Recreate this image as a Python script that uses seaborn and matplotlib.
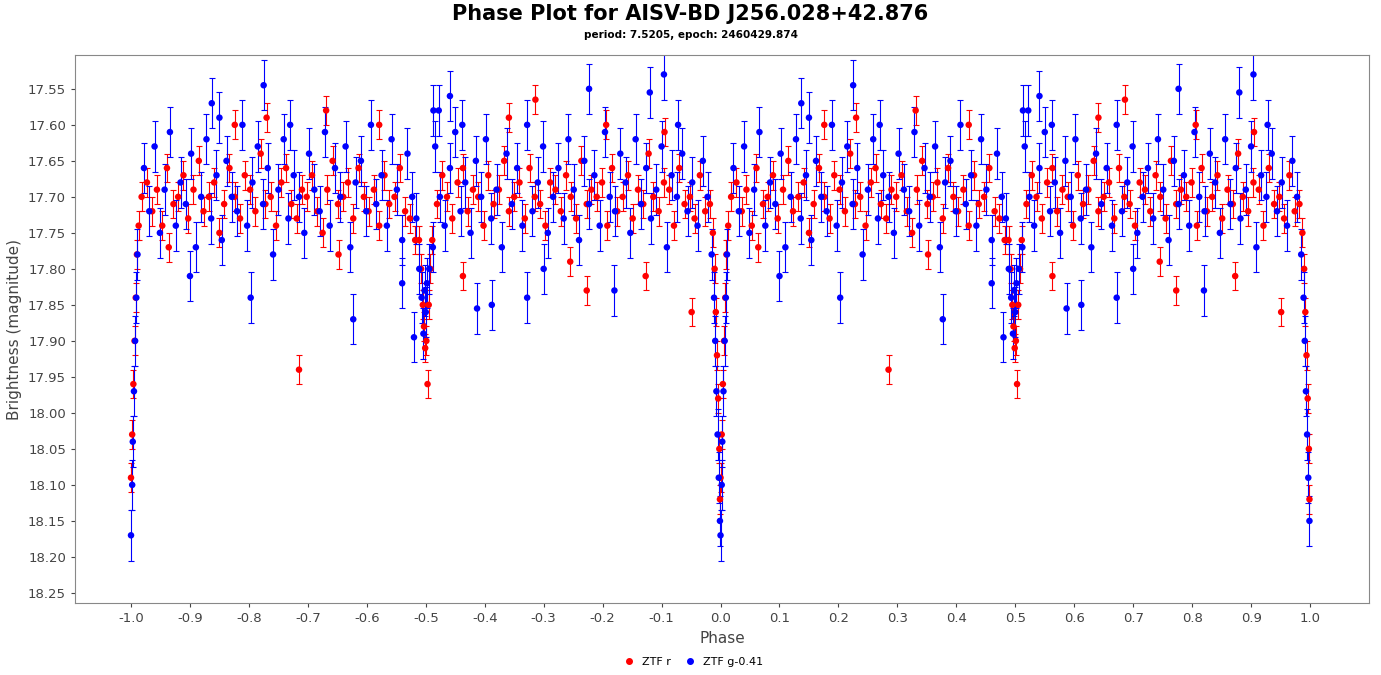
import numpy as np
import pandas as pd
import matplotlib
matplotlib.use("Agg")
import matplotlib.pyplot as plt
import seaborn as sns

r_phase = [0.018,0.027,0.036,0.044,0.053,0.061,0.072,0.080,0.089,0.097,0.106,0.115,0.123,0.132,0.141,0.150,0.158,0.167,0.176,0.185,0.193,0.202,0.211,0.220,0.228,0.237,0.246,0.255,0.263,0.272,0.281,0.290,0.298,0.307,0.316,0.325,0.333,0.342,0.351,0.360,0.368,0.377,0.386,0.395,0.403,0.412,0.421,0.430,0.438,0.447,0.456,0.465,0.473,0.482,
           0.519,0.528,0.536,0.545,0.554,0.563,0.571,0.580,0.589,0.598,0.606,0.615,0.624,0.633,0.641,0.650,0.659,0.668,0.676,0.685,0.694,0.703,0.711,0.720,0.729,0.738,0.746,0.755,0.764,0.773,0.781,0.790,0.799,0.808,0.816,0.825,0.834,0.843,0.851,0.860,0.869,0.878,0.886,0.895,0.904,0.913,0.921,0.930,0.939,0.948,0.956,0.965,0.974,0.982,
           0.000,0.002,0.004,0.006,0.008,0.010,0.013,0.987,0.990,0.992,0.994,0.996,0.998,0.999,0.4885,0.492,0.495,0.497,0.499,0.501,0.503,0.505,0.508,0.511,0.285,0.951,0.773,0.873,0.563,0.686,0.230,0.176,0.331,0.421,0.641,0.806,0.905,0.064,0.352,0.745]
r_mag = [17.70,17.68,17.72,17.69,17.74,17.66,17.71,17.70,17.67,
         17.73,17.69,17.65,17.72,17.70,17.68,17.75,17.71,17.66,
         17.70,17.73,17.67,17.69,17.72,17.64,17.71,17.70,17.74,
         17.68,17.66,17.71,17.73,17.69,17.70,17.67,17.72,17.75,
         17.69,17.65,17.71,17.70,17.68,17.73,17.66,17.70,17.72,
         17.69,17.74,17.67,17.71,17.70,17.66,17.72,17.73,17.76,
         17.71,17.67,17.70,17.73,17.68,17.66,17.72,17.69,17.70,
         17.74,17.67,17.71,17.69,17.65,17.72,17.70,17.68,17.73,
         17.66,17.70,17.71,17.74,17.68,17.69,17.72,17.67,17.70,
         17.73,17.65,17.71,17.69,17.70,17.68,17.74,17.66,17.72,
         17.70,17.67,17.73,17.69,17.71,17.64,17.70,17.72,17.68,
         17.69,17.74,17.66,17.71,17.70,17.73,17.67,17.72,17.71,
         18.09,18.03,17.96,17.90,17.84,17.78,17.74,17.75,17.80,17.86,17.92,17.98,18.05,18.12,
         17.76,17.80,17.85,17.88,17.91,17.90,17.96,17.85,17.80,17.76,
         17.94,17.86,17.83,17.81,17.81,17.565,17.59,17.60,17.58,17.60,17.59,17.60,17.61,17.77,17.78,17.79]

g_phase = [0.022,0.031,0.040,0.049,0.057,0.066,0.076,0.084,0.093,0.102,0.110,0.119,0.128,0.136,0.145,0.154,0.162,0.171,0.180,0.189,0.197,0.206,0.215,0.224,0.232,0.241,0.250,0.259,0.267,0.276,0.285,0.294,0.302,0.311,0.320,0.329,0.337,0.346,0.355,0.364,0.372,0.381,0.390,0.399,0.407,0.416,0.425,0.434,0.442,0.451,0.460,0.469,0.477,0.484,
           0.516,0.524,0.532,0.541,0.550,0.559,0.567,0.576,0.585,0.594,0.602,0.611,0.620,0.629,0.637,0.646,0.655,0.664,0.672,0.681,0.690,0.699,0.707,0.716,0.725,0.734,0.742,0.751,0.760,0.769,0.777,0.786,0.795,0.804,0.812,0.821,0.830,0.839,0.847,0.856,0.865,0.874,0.882,0.891,0.900,0.909,0.917,0.926,0.935,0.944,0.952,0.961,0.970,0.978,
           0.000,0.002,0.003,0.005,0.007,0.009,0.011,0.985,0.989,0.991,0.993,0.995,0.997,0.999,0.489,0.493,0.496,0.498,0.500,0.502,0.506,0.512,0.513,0.522,0.541,0.562,0.777,0.880,0.904,0.928,0.225,0.137,0.203,0.377,0.460,0.480,0.587,0.612,0.100,0.672,0.700,0.820,0.270,0.150]
g_mag = [17.66,17.72,17.63,17.75,17.69,17.61,17.74,17.68,17.71,
         17.64,17.77,17.70,17.62,17.73,17.67,17.76,17.65,17.70,
         17.72,17.60,17.74,17.68,17.63,17.71,17.66,17.78,17.69,
         17.62,17.73,17.67,17.70,17.75,17.64,17.69,17.72,17.61,
         17.74,17.66,17.70,17.63,17.77,17.68,17.65,17.72,17.60,
         17.71,17.67,17.74,17.62,17.69,17.76,17.64,17.70,17.73,
         17.63,17.70,17.74,17.66,17.61,17.72,17.68,17.75,17.65,
         17.70,17.62,17.73,17.69,17.77,17.64,17.71,17.66,17.74,
         17.60,17.72,17.68,17.63,17.75,17.70,17.66,17.73,17.62,
         17.69,17.76,17.65,17.71,17.67,17.74,17.61,17.70,17.72,
         17.64,17.68,17.75,17.62,17.71,17.66,17.73,17.69,17.63,
         17.77,17.67,17.70,17.64,17.72,17.68,17.74,17.65,17.70,
         18.17,18.10,18.04,17.97,17.90,17.84,17.78,17.78,17.84,17.90,17.97,18.03,18.09,18.15,
         17.80,17.84,17.89,17.83,17.86,17.82,17.80,17.77,17.58,17.58,17.56,17.60,17.55,17.555,17.53,17.60,
         17.545,17.57,17.84,17.87,17.82,17.895,17.855,17.85,17.81,17.84,17.80,17.83,17.60,17.59]

r_err = 0.02
g_err = 0.035
x_ticks = [-1.0,-0.9,-0.8,-0.7,-0.6,-0.5,-0.4,-0.3,-0.2,-0.1,0.0,0.1,0.2,0.3,0.4,0.5,0.6,0.7,0.8,0.9,1.0]
y_ticks = [17.55,17.60,17.65,17.70,17.75,17.80,17.85,17.90,17.95,18.00,18.05,18.10,18.15,18.20,18.25]

def frame(ph, mg, err, name):
    ph = np.array(ph); mg = np.array(mg)
    return pd.DataFrame({"phase": np.concatenate([ph, ph - 1.0]),
                         "mag": np.concatenate([mg, mg]),
                         "err": err, "band": name})

df = pd.concat([frame(r_phase, r_mag, r_err, "ZTF r"),
                frame(g_phase, g_mag, g_err, "ZTF g-0.41")], ignore_index=True)
colors = {"ZTF r": "#ff0000", "ZTF g-0.41": "#0000ff"}

fig = plt.figure(figsize=(13.81, 6.75), dpi=100)
ax = fig.add_axes([75/1381, 1-603/675, (1369-75)/1381, (603-55)/675])
for band in ["ZTF r", "ZTF g-0.41"]:
    d = df[df.band == band]
    ax.errorbar(d.phase, d.mag, yerr=d.err, fmt="none", ecolor=colors[band],
                elinewidth=0.8, capsize=2, capthick=0.8, zorder=2)
sns.scatterplot(data=df, x="phase", y="mag", hue="band", palette=colors,
                s=22, edgecolor="none", ax=ax, zorder=3, legend=False)

ax.set_xlim(-1.095, 1.1)
ax.set_ylim(18.264, 17.503)
ax.set_xticks(x_ticks)
ax.set_xticklabels([f"{t:.1f}" for t in x_ticks])
ax.set_yticks(y_ticks)
ax.set_yticklabels([f"{t:.2f}" for t in y_ticks])
ax.tick_params(labelsize=9.5, colors="#444444", length=3)
ax.set_xlabel("Phase", fontsize=11, color="#444444")
ax.set_ylabel("Brightness (magnitude)", fontsize=11, color="#444444")
for s in ax.spines.values():
    s.set_color("#888888")
fig.text(0.5, 1-14/675, "Phase Plot for AISV-BD J256.028+42.876", ha="center", va="center",
         fontsize=15, fontweight="bold")
fig.text(0.5, 1-35/675, "period: 7.5205, epoch: 2460429.874", ha="center", va="center",
         fontsize=7.5, fontweight="bold")
from matplotlib.lines import Line2D
handles = [Line2D([], [], marker="o", ls="none", color=colors[b], markersize=4) for b in colors]
fig.legend(handles, list(colors), loc="center", bbox_to_anchor=(0.5, 1-662/675), ncol=2,
           frameon=False, fontsize=8, handletextpad=0.1, columnspacing=0.8)
fig.savefig("out.png", dpi=100)
